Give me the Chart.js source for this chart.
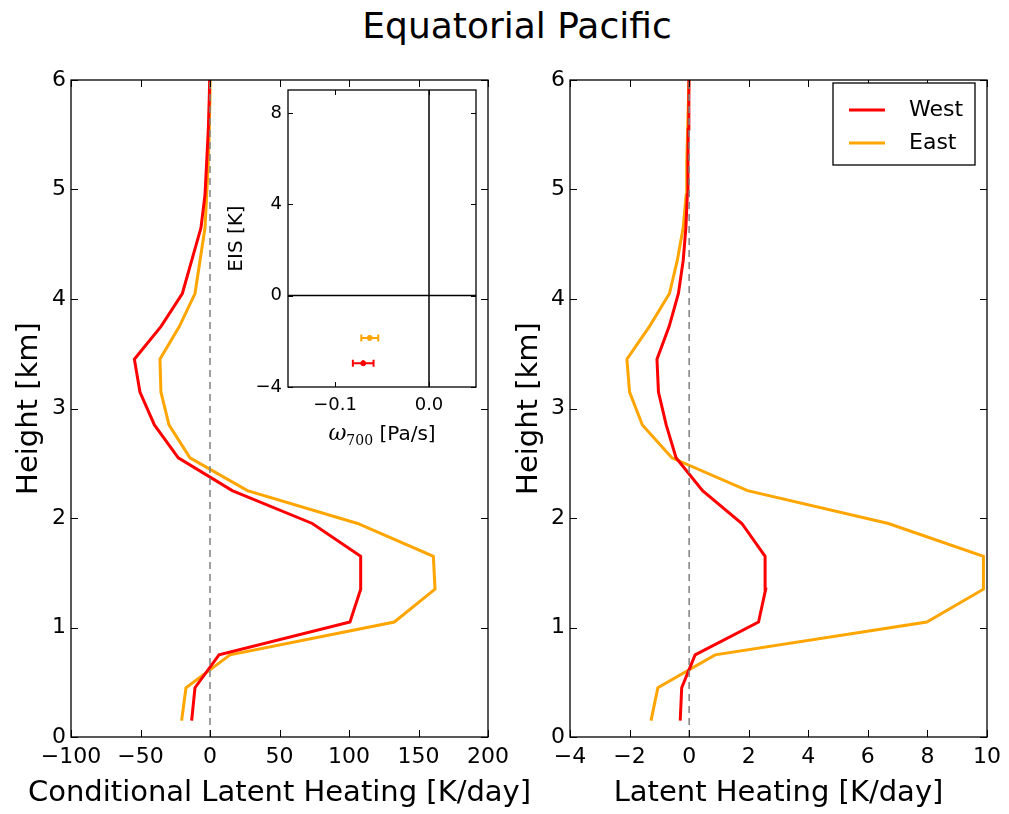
<!DOCTYPE html>
<html>
<head>
<meta charset="utf-8">
<script src="https://cdn.jsdelivr.net/npm/chart.js@4.4.1/dist/chart.umd.min.js"></script>
<style>
  body { margin: 0; background: #fff; width: 1009px; height: 814px; position: relative; overflow: hidden; font-family: 'DejaVu Sans', sans-serif; }
  #title { position: absolute; left: 0; width: 1034px; top: 8px; text-align: center; font-size: 36px; line-height: 36px; color: #000; }
  .box { position: absolute; }
</style>
</head>
<body>
<div id="title">Equatorial Pacific</div>
<div class="box" style="left:0;top:60px;width:550px;height:754px;"><canvas id="left"></canvas></div>
<div class="box" style="left:500px;top:60px;width:509px;height:754px;"><canvas id="right"></canvas></div>
<div class="box" style="left:220px;top:80px;width:270px;height:370px;"><canvas id="inset"></canvas></div>
<script>
// niveaux (km) et profils
const heights = [0.15, 0.45, 0.75, 1.05, 1.35, 1.65, 1.95, 2.25, 2.55, 2.85, 3.15, 3.45, 3.75, 4.05, 4.35, 4.65, 4.95, 5.25, 5.55, 5.85, 6.15];
const westCond = [-13.2, -10.8, 6.5, 100.7, 108.4, 108.4, 73.6, 16, -22.8, -40, -50.4, -54.4, -35.2, -19.9, -13.2, -6.5, -3.6, -2.4, -1.2, -0.5, 0];
const eastCond = [-20.4, -17.3, 14.4, 132.6, 161.9, 160.7, 106.2, 26.9, -14.4, -29.5, -35.3, -36, -22, -10.8, -7.2, -3.6, -2.4, -1.2, -0.5, 0, 0];
const westLH = [-0.30, -0.25, 0.20, 2.33, 2.57, 2.55, 1.77, 0.45, -0.44, -0.77, -1.03, -1.08, -0.67, -0.36, -0.2, -0.11, -0.06, -0.04, -0.03, -0.01, 0];
const eastLH = [-1.28, -1.05, 0.87, 7.98, 9.88, 9.88, 6.69, 1.96, -0.58, -1.57, -2.0, -2.09, -1.33, -0.66, -0.4, -0.2, -0.1, -0.08, -0.05, -0.02, 0];

const heightTicks = [0, 1, 2, 3, 4, 5, 6];
const condTicks = [-100, -50, 0, 50, 100, 150, 200];
const lhTicks = [-4, -2, 0, 2, 4, 6, 8, 10];

// encart : omega700 vs EIS
const insetNames = ['West', 'East'];
const omegaVals = [-0.070, -0.063];
const omegaErr = [0.011, 0.009];
const eisVals = [-2.96, -1.85];
const eisErr = [0.12, 0.12];
const omegaTicks = [-0.1, 0.0];
const eisTicks = [-4, 0, 4, 8];

const RED = '#ff0000';
const ORANGE = '#ffa500';
const FONT = "'DejaVu Sans', sans-serif";

function fmt(v) { return String(v).replace('-', '\u2212'); }
function profile(vals) { return vals.map((v, i) => ({ x: v, y: heights[i] })); }
function setTicks(arr) { return s => { s.ticks = arr.map(v => ({ value: v })); }; }
function fitX(h) { return s => { s.height = h; s.paddingLeft = 0; s.paddingRight = 0; }; }
function fitY(w) { return s => { s.width = w; s.paddingTop = 0; s.paddingBottom = 0; }; }

// cadre + graduations vers l'intérieur, sur les 4 côtés
const framePlugin = {
  id: 'frame',
  afterDatasetsDraw(chart, args, opts) {
    const { ctx, chartArea: a, scales } = chart;
    const len = opts.len || 7;
    ctx.save();
    ctx.strokeStyle = '#000';
    ctx.lineWidth = 1;
    ctx.beginPath();
    scales.x.ticks.forEach(t => {
      const px = Math.round(scales.x.getPixelForValue(t.value)) + 0.5;
      ctx.moveTo(px, a.bottom); ctx.lineTo(px, a.bottom - len);
      ctx.moveTo(px, a.top); ctx.lineTo(px, a.top + len);
    });
    scales.y.ticks.forEach(t => {
      const py = Math.round(scales.y.getPixelForValue(t.value)) + 0.5;
      ctx.moveTo(a.left, py); ctx.lineTo(a.left + len, py);
      ctx.moveTo(a.right, py); ctx.lineTo(a.right - len, py);
    });
    ctx.stroke();
    ctx.lineWidth = 1.3;
    ctx.strokeRect(a.left, a.top, a.right - a.left, a.bottom - a.top);
    ctx.restore();
  }
};

// titre de l'axe x, sans compression à la largeur du graphique
const xTitlePlugin = {
  id: 'xTitle',
  afterDraw(chart, args, opts) {
    if (!opts.text) return;
    const { ctx, chartArea: a } = chart;
    ctx.save();
    ctx.font = '29px ' + FONT;
    ctx.fillStyle = '#000';
    ctx.textAlign = 'center';
    ctx.textBaseline = 'middle';
    ctx.fillText(opts.text, (a.left + a.right) / 2, a.bottom + 56);
    ctx.restore();
  }
};

// légende encadrée en haut à droite
const boxLegend = {
  id: 'boxLegend',
  afterDraw(chart, args, opts) {
    if (!opts.show) return;
    const { ctx, chartArea: a } = chart;
    const items = chart.data.datasets.filter(d => d.label);
    const w = 142, h = 82;
    const x = a.right - w - 12, y = a.top + 3;
    ctx.save();
    ctx.fillStyle = '#fff';
    ctx.fillRect(x, y, w, h);
    ctx.strokeStyle = '#000';
    ctx.lineWidth = 1.3;
    ctx.strokeRect(x, y, w, h);
    ctx.font = '22px ' + FONT;
    ctx.textBaseline = 'middle';
    items.forEach((d, i) => {
      const cy = y + 27 + i * 33;
      ctx.strokeStyle = d.borderColor;
      ctx.lineWidth = 3;
      ctx.beginPath();
      ctx.moveTo(x + 16, cy); ctx.lineTo(x + 52, cy);
      ctx.stroke();
      ctx.fillStyle = '#000';
      ctx.fillText(d.label, x + 76, cy);
    });
    ctx.restore();
  }
};

function panel(id, west, east, xMin, xMax, xTicks, xTitle, yWidth, padRight, legend) {
  return new Chart(document.getElementById(id), {
    type: 'scatter',
    data: {
      datasets: [
        { data: [{ x: 0, y: 0 }, { x: 0, y: 6 }], showLine: true, borderColor: '#808080', borderWidth: 1.5, borderDash: [7, 5], pointRadius: 0 },
        { label: 'West', data: profile(west), showLine: true, borderColor: RED, borderWidth: 3, pointRadius: 0 },
        { label: 'East', data: profile(east), showLine: true, borderColor: ORANGE, borderWidth: 3, pointRadius: 0 }
      ]
    },
    options: {
      responsive: true,
      maintainAspectRatio: false,
      animation: false,
      layout: { padding: { top: 20, right: padRight, bottom: 0, left: 0 } },
      plugins: {
        legend: { display: false }, tooltip: { enabled: false },
        frame: { len: 7 }, boxLegend: { show: legend }, xTitle: { text: xTitle }
      },
      scales: {
        x: {
          type: 'linear', min: xMin, max: xMax,
          afterBuildTicks: setTicks(xTicks),
          afterFit: fitX(77),
          grid: { display: false, drawTicks: false },
          border: { display: false },
          ticks: { color: '#000', padding: 7, font: { family: FONT, size: 22 }, callback: v => fmt(v) },
          title: { display: false }
        },
        y: {
          type: 'linear', min: 0, max: 6,
          afterBuildTicks: setTicks(heightTicks),
          afterFit: fitY(yWidth),
          grid: { display: false, drawTicks: false },
          border: { display: false },
          ticks: { color: '#000', padding: 5, font: { family: FONT, size: 22 }, callback: v => fmt(v) },
          title: { display: true, text: 'Height [km]', color: '#000', font: { family: FONT, size: 29 }, padding: { top: 12, bottom: 0 } }
        }
      }
    },
    plugins: [framePlugin, boxLegend, xTitlePlugin]
  });
}

panel('left', westCond, eastCond, -100, 200, condTicks, 'Conditional Latent Heating [K/day]', 71, 62, false);
panel('right', westLH, eastLH, -4, 10, lhTicks, 'Latent Heating [K/day]', 70, 22, true);

// fond blanc, barres d'erreur et titre omega de l'encart
const insetPlugin = {
  id: 'insetExtras',
  beforeDatasetsDraw(chart) {
    const { ctx, chartArea: a } = chart;
    ctx.save();
    ctx.fillStyle = '#fff';
    ctx.fillRect(a.left, a.top, a.right - a.left, a.bottom - a.top);
    ctx.restore();
  },
  afterDatasetsDraw(chart) {
    const { ctx, chartArea: a, scales: { x, y } } = chart;
    const colors = [RED, ORANGE];
    ctx.save();
    omegaVals.forEach((o, i) => {
      const px = x.getPixelForValue(o), py = y.getPixelForValue(eisVals[i]);
      const x0 = x.getPixelForValue(o - omegaErr[i]), x1 = x.getPixelForValue(o + omegaErr[i]);
      const y0 = y.getPixelForValue(eisVals[i] - eisErr[i]), y1 = y.getPixelForValue(eisVals[i] + eisErr[i]);
      ctx.strokeStyle = colors[i];
      ctx.lineWidth = 2;
      ctx.beginPath();
      ctx.moveTo(x0, py); ctx.lineTo(x1, py);
      ctx.moveTo(x0, py - 3.5); ctx.lineTo(x0, py + 3.5);
      ctx.moveTo(x1, py - 3.5); ctx.lineTo(x1, py + 3.5);
      ctx.moveTo(px, y0); ctx.lineTo(px, y1);
      ctx.stroke();
    });

    // titre de l'axe x : omega italique + indice 700
    const parts = [
      { t: '\u03C9', f: 'italic 22px "DejaVu Serif", serif', dy: 0 },
      { t: '700', f: '14px "DejaVu Serif", serif', dy: 5 },
      { t: ' [Pa/s]', f: '20px ' + FONT, dy: 0 }
    ];
    let total = 0;
    parts.forEach(p => { ctx.font = p.f; p.w = ctx.measureText(p.t).width; total += p.w; });
    let cx = (a.left + a.right) / 2 - total / 2;
    const base = a.bottom + 53;
    ctx.fillStyle = '#000';
    ctx.textBaseline = 'alphabetic';
    parts.forEach(p => { ctx.font = p.f; ctx.fillText(p.t, cx, base + p.dy); cx += p.w; });
    ctx.restore();
  }
};

new Chart(document.getElementById('inset'), {
  type: 'scatter',
  data: {
    datasets: [
      { data: [{ x: -0.15, y: 0 }, { x: 0.05, y: 0 }], showLine: true, borderColor: '#000', borderWidth: 1.5, pointRadius: 0 },
      { data: [{ x: 0, y: -4 }, { x: 0, y: 9 }], showLine: true, borderColor: '#000', borderWidth: 1.5, pointRadius: 0 },
      { data: insetNames.map((n, i) => ({ x: omegaVals[i], y: eisVals[i] })), pointRadius: 2.5,
        pointBackgroundColor: [RED, ORANGE], pointBorderColor: [RED, ORANGE] }
    ]
  },
  options: {
    responsive: true,
    maintainAspectRatio: false,
    animation: false,
    layout: { padding: { top: 10, right: 14, bottom: 0, left: 0 } },
    plugins: { legend: { display: false }, tooltip: { enabled: false }, frame: { len: 5 } },
    scales: {
      x: {
        type: 'linear', min: -0.15, max: 0.05,
        afterBuildTicks: setTicks(omegaTicks),
        afterFit: fitX(63),
        grid: { display: false, drawTicks: false },
        border: { display: false },
        ticks: { color: '#000', padding: 8, font: { family: FONT, size: 18 }, callback: v => fmt(v.toFixed(1)) },
        title: { display: false }
      },
      y: {
        type: 'linear', min: -4, max: 9,
        afterBuildTicks: setTicks(eisTicks),
        afterFit: fitY(68),
        grid: { display: false, drawTicks: false },
        border: { display: false },
        ticks: { color: '#000', padding: 6, font: { family: FONT, size: 18 }, callback: v => fmt(v) },
        title: { display: true, text: 'EIS [K]', color: '#000', font: { family: FONT, size: 20 }, padding: { top: 5, bottom: 0 } }
      }
    }
  },
  plugins: [insetPlugin, framePlugin]
});
</script>
</body>
</html>
